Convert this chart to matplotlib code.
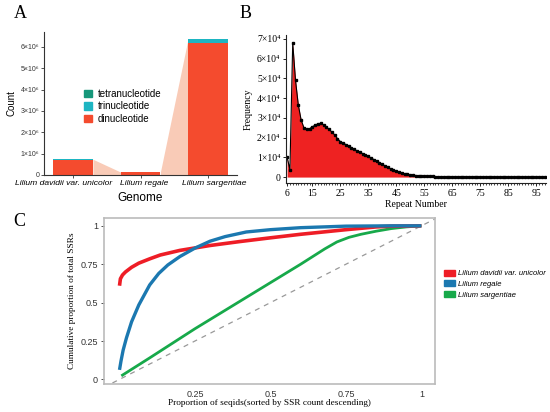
import matplotlib
matplotlib.use("Agg")
import matplotlib.pyplot as plt
from matplotlib.patches import Patch
import numpy as np

# ---------------- data ----------------
genomes = ["Lilium davidii var. unicolor", "Lilium regale", "Lilium sargentiae"]
dinuc = [0.72e6, 0.13e6, 6.20e6]
trinuc = [0.012e6, 0.006e6, 0.17e6]
tetranuc = [0.006e6, 0.002e6, 0.012e6]
a_yticks = [0, 1e6, 2e6, 3e6, 4e6, 5e6, 6e6]
a_yticklabels = ["0", "1×10⁶", "2×10⁶", "3×10⁶", "4×10⁶", "5×10⁶", "6×10⁶"]

repeat_start = 6
freq_1e4 = [1.0, 0.38, 6.8, 4.9, 3.65, 2.9, 2.5, 2.42, 2.45, 2.55,
            2.63, 2.7, 2.72, 2.65, 2.55, 2.42, 2.28, 2.14, 1.95, 1.8,
            1.72, 1.65, 1.57, 1.48, 1.4, 1.33, 1.26, 1.19, 1.12, 1.05,
            0.97, 0.89, 0.81, 0.73, 0.65, 0.57, 0.49, 0.42, 0.36, 0.3,
            0.25, 0.2, 0.16, 0.14, 0.12, 0.1, 0.08, 0.07, 0.06, 0.05,
            0.045, 0.04, 0.03, 0.025, 0.02,
            0.018, 0.016, 0.015, 0.014, 0.013, 0.012, 0.011, 0.01, 0.01, 0.009,
            0.009, 0.008, 0.008, 0.007, 0.007, 0.006, 0.006, 0.006, 0.005, 0.005,
            0.005, 0.005, 0.004, 0.004, 0.004, 0.004, 0.003, 0.003, 0.003, 0.003,
            0.003, 0.003, 0.002, 0.002, 0.002, 0.002, 0.002, 0.002]
b_xticks = [6, 15, 25, 35, 45, 55, 65, 75, 85, 95]
b_yticks = [0, 1e4, 2e4, 3e4, 4e4, 5e4, 6e4, 7e4]
b_yticklabels = ["0", "1×10⁴", "2×10⁴", "3×10⁴", "4×10⁴", "5×10⁴", "6×10⁴", "7×10⁴"]

red_x = [0.0, 0.003, 0.01, 0.02, 0.04, 0.064, 0.1, 0.135, 0.2, 0.25, 0.3, 0.4, 0.5, 0.6, 0.75, 0.85, 0.9, 1.0]
red_y = [0.61, 0.655, 0.68, 0.70, 0.73, 0.757, 0.785, 0.81, 0.84, 0.856, 0.872, 0.898, 0.922, 0.945, 0.975, 0.993, 0.998, 1.0]
blue_x = [0.0, 0.005, 0.012, 0.023, 0.04, 0.064, 0.1, 0.13, 0.16, 0.2, 0.25, 0.3, 0.35, 0.42, 0.5, 0.6, 0.75, 0.9, 1.0]
blue_y = [0.062, 0.12, 0.19, 0.27, 0.375, 0.485, 0.615, 0.69, 0.745, 0.80, 0.855, 0.9, 0.93, 0.96, 0.975, 0.988, 0.998, 1.0, 1.0]
green_x = [0.006, 0.1, 0.25, 0.4, 0.5, 0.6, 0.68, 0.72, 0.76, 0.8, 0.85, 0.9, 0.95, 1.0]
green_y = [0.023, 0.14, 0.33, 0.51, 0.63, 0.75, 0.85, 0.895, 0.925, 0.945, 0.965, 0.982, 0.993, 1.0]
c_labels = ["Lilium davidii var. unicolor", "Lilium regale", "Lilium sargentiae"]
c_xticks = [0.25, 0.5, 0.75, 1]
c_xticklabels = ["0.25", "0.5", "0.75", "1"]
c_yticks = [0, 0.25, 0.5, 0.75, 1]
c_yticklabels = ["0", "0.25", "0.5", "0.75", "1"]

# ---------------- style ----------------
SANS = ["Liberation Sans", "DejaVu Sans"]
SERIF = ["Liberation Serif", "DejaVu Serif"]
col_di = "#F44B2E"
col_tri = "#1DB5C2"
col_tetra = "#16977A"
col_rib = "#F9CBB7"
col_red = "#EE1D26"
col_blue = "#1B78B0"
col_green = "#17A94A"

W, H = 550, 412
DPI = 100
fig = plt.figure(figsize=(5.5, 4.12), dpi=DPI)

def ax_px(l, t, r, b):
    return fig.add_axes([l / W, 1 - b / H, (r - l) / W, (b - t) / H])

# ---------------- panel A ----------------
axA = ax_px(44, 32, 237, 175)
x = np.arange(len(genomes))
w = 0.59
tot = [d + t + q for d, t, q in zip(dinuc, trinuc, tetranuc)]
for i in range(len(genomes) - 1):
    axA.fill_between([x[i] + w / 2, x[i + 1] - w / 2], [tot[i], tot[i + 1]], 0,
                     color=col_rib, lw=0, zorder=1)
axA.bar(x, dinuc, w, color=col_di, zorder=2)
axA.bar(x, trinuc, w, bottom=dinuc, color=col_tri, zorder=2)
axA.bar(x, tetranuc, w, bottom=[d + t for d, t in zip(dinuc, trinuc)], color=col_tetra, zorder=2)
axA.set_xlim(-0.43, 2.43)
axA.set_ylim(0, 6.7e6)
axA.set_yticks(a_yticks)
axA.set_yticklabels(a_yticklabels, family=SANS, fontsize=5)
axA.set_xticks(x)
axA.set_xticklabels([])
# tick labels drawn as annotations, nudged horizontally as in the reference
for xi, name, dx in zip(x, genomes, [-9, 4, 6]):
    axA.annotate(name, xy=(xi, 0), xycoords=axA.get_xaxis_transform(),
                 xytext=(dx * 72 / DPI, -3.5), textcoords="offset points",
                 ha="center", va="top", family=SANS, fontsize=6.1, style="italic",
                 annotation_clip=False)
for s in ["top", "right"]:
    axA.spines[s].set_visible(False)
for s in ["left", "bottom"]:
    axA.spines[s].set_color("#333333")
    axA.spines[s].set_linewidth(0.8)
axA.tick_params(length=2, width=0.6, pad=1.5, colors="#333333")
axA.set_ylabel("Count", family=SANS, fontsize=7, labelpad=3)
fig.text(140 / W, 1 - 198 / H, "Genome", family=SANS, fontsize=8.5, ha="center", va="center")
handles = [Patch(color=col_tetra), Patch(color=col_tri), Patch(color=col_di)]
axA.legend(handles, ["tetranucleotide", "trinucleotide", "dinucleotide"],
           loc="upper left", bbox_to_anchor=(79 / W, 1 - 84 / H), bbox_transform=fig.transFigure,
           frameon=False, prop={"family": SANS, "size": 7}, handlelength=0.8, handleheight=0.8,
           handletextpad=0.6, labelspacing=0.25, borderpad=0)

# ---------------- panel B ----------------
axB = ax_px(286, 35, 546, 183)
rep = np.arange(repeat_start, repeat_start + len(freq_1e4))
fv = np.array(freq_1e4) * 1e4
axB.fill_between(rep, fv, 0, color="#EE2222", lw=0, zorder=1)
axB.plot(rep, fv, color="black", lw=0.8, marker="s", ms=1.6, zorder=2)
axB.set_xlim(5.6, 98.5)
axB.set_ylim(-0.3e4, 7.2e4)
axB.set_xticks(b_xticks)
axB.set_xticklabels([str(v) for v in b_xticks], family=SERIF, fontsize=7)
axB.set_xticks(rep, minor=True)
axB.set_yticks(b_yticks)
axB.set_yticklabels(b_yticklabels, family=SERIF, fontsize=7)
for s in ["top", "right"]:
    axB.spines[s].set_visible(False)
for s in ["left", "bottom"]:
    axB.spines[s].set_color("#222222")
    axB.spines[s].set_linewidth(0.8)
axB.tick_params(which="major", length=2.5, width=0.6, pad=1.5)
axB.tick_params(which="minor", length=1.5, width=0.5)
axB.set_ylabel("Frequency", family=SERIF, fontsize=7, labelpad=3)
axB.set_xlabel("Repeat Number", family=SERIF, fontsize=7, labelpad=2)

# ---------------- panel C ----------------
axC = ax_px(103.5, 218, 435, 384)
axC.set_xlim(-0.053, 1.045)
axC.set_ylim(-0.03, 1.051)
axC.plot([-0.053, 1.055], [-0.053, 1.055], ls=(0, (4, 4)), color="#999999", lw=0.9, zorder=1)
axC.plot(red_x, red_y, color=col_red, lw=2.6, solid_capstyle="butt", zorder=3)
axC.plot(blue_x, blue_y, color=col_blue, lw=2.4, solid_capstyle="butt", zorder=4)
axC.plot(green_x, green_y, color=col_green, lw=2.0, solid_capstyle="butt", zorder=2)
axC.set_xticks(c_xticks)
axC.set_xticklabels(c_xticklabels, family=SANS, fontsize=6.5)
axC.set_yticks(c_yticks)
axC.set_yticklabels(c_yticklabels, family=SANS, fontsize=6.5)
for s in axC.spines.values():
    s.set_color("#BBBBBB")
    s.set_linewidth(1.2)
axC.tick_params(length=2, width=0.6, colors="#333333", pad=2)
axC.tick_params(axis="x", length=0, pad=4)
axC.set_xlabel("Proportion of seqids(sorted by SSR count descending)", family=SERIF, fontsize=6.7, labelpad=0)
axC.set_ylabel("Cumulative proportion of total SSRs", family=SERIF, fontsize=6.7, labelpad=3)
hC = [Patch(color=col_red), Patch(color=col_blue), Patch(color=col_green)]
fig.legend(hC, c_labels, loc="upper left", bbox_to_anchor=(440 / W, 1 - 266 / H),
           frameon=False, prop={"family": SANS, "size": 5.5, "style": "italic"},
           handlelength=1.4, handleheight=0.8, handletextpad=0.5, labelspacing=0.4, borderpad=0)

# ---------------- panel letters ----------------
for txt, px, py in [("A", 20, 14), ("B", 246, 14), ("C", 19, 221)]:
    fig.text(px / W, 1 - py / H, txt, family=SERIF, fontsize=13, ha="center", va="center")

fig.savefig("out.png", dpi=100)
